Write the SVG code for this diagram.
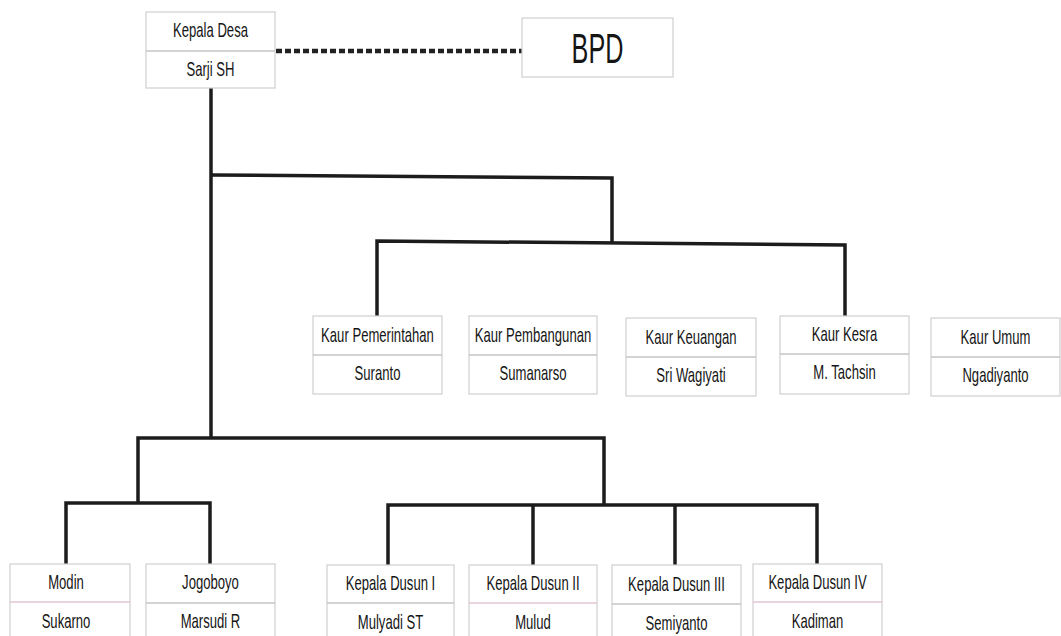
<svg xmlns="http://www.w3.org/2000/svg" width="1061" height="636" viewBox="0 0 1061 636">
<defs>
<style>
.box{fill:#ffffff;stroke:#cfcfcf;stroke-width:1.2}
.div{stroke:#c4c4c4;stroke-width:1.5}
.divp{stroke:#e2c6d4;stroke-width:1.5}
.t{font-family:"Liberation Sans",Arial,sans-serif;font-size:20px;fill:#151515;text-anchor:middle}
.big{font-family:"Liberation Sans",Arial,sans-serif;font-size:42px;fill:#151515;text-anchor:middle}
.ln{fill:none;stroke:#1c1c1c;stroke-width:3.5;stroke-linejoin:miter}
.dash{fill:none;stroke:#222;stroke-width:4.5;stroke-dasharray:6 3}
</style>
</defs>
<rect width="1061" height="636" fill="#ffffff"/>
<g id="connectors">
<line class="dash" x1="276" y1="51" x2="522" y2="51"/>
<path class="ln" d="M211,88 V438"/>
<path class="ln" d="M211,175 L612,178 V242"/>
<path class="ln" d="M377,316 V241 L845,245 V316"/>
<path class="ln" d="M138,503 V438 H604 V505"/>
<path class="ln" d="M66,564 V503 H210 V564"/>
<path class="ln" d="M388,565 V505 H817 V565"/>
<path class="ln" d="M533,505 V565"/>
<path class="ln" d="M675,505 V565"/>
</g>
<g id="kepala-desa">
<rect class="box" x="146" y="12" width="129" height="76"/>
<line class="div" x1="146" y1="51" x2="275" y2="51"/>
<text class="t" transform="translate(210.5,37) scale(0.655,1)">Kepala Desa</text>
<text class="t" transform="translate(210.5,76) scale(0.655,1)">Sarji SH</text>
</g>
<g id="bpd">
<rect class="box" x="522" y="18" width="151" height="59"/>
<text class="big" transform="translate(597.5,63) scale(0.6,1)">BPD</text>
</g>
<g id="kaur-pemerintahan">
<rect class="box" x="313" y="316" width="129" height="78"/>
<line class="div" x1="313" y1="355" x2="442" y2="355"/>
<text class="t" transform="translate(377.5,342) scale(0.655,1)">Kaur Pemerintahan</text>
<text class="t" transform="translate(377.5,380) scale(0.655,1)">Suranto</text>
</g>
<g id="kaur-pembangunan">
<rect class="box" x="469" y="316" width="128" height="78"/>
<line class="div" x1="469" y1="355" x2="597" y2="355"/>
<text class="t" transform="translate(533,342) scale(0.655,1)">Kaur Pembangunan</text>
<text class="t" transform="translate(533,380) scale(0.655,1)">Sumanarso</text>
</g>
<g id="kaur-keuangan">
<rect class="box" x="626" y="318" width="130" height="78"/>
<line class="div" x1="626" y1="357" x2="756" y2="357"/>
<text class="t" transform="translate(691,344) scale(0.655,1)">Kaur Keuangan</text>
<text class="t" transform="translate(691,382) scale(0.655,1)">Sri Wagiyati</text>
</g>
<g id="kaur-kesra">
<rect class="box" x="780" y="316" width="129" height="78"/>
<line class="div" x1="780" y1="354" x2="909" y2="354"/>
<text class="t" transform="translate(844.5,341) scale(0.655,1)">Kaur Kesra</text>
<text class="t" transform="translate(844.5,379) scale(0.655,1)">M. Tachsin</text>
</g>
<g id="kaur-umum">
<rect class="box" x="931" y="318" width="129" height="78"/>
<line class="div" x1="931" y1="357" x2="1060" y2="357"/>
<text class="t" transform="translate(995.5,344) scale(0.655,1)">Kaur Umum</text>
<text class="t" transform="translate(995.5,382) scale(0.655,1)">Ngadiyanto</text>
</g>
<g id="modin">
<rect class="box" x="10" y="564" width="120" height="80"/>
<line class="divp" x1="10" y1="602" x2="130" y2="602"/>
<text class="t" transform="translate(66,589) scale(0.655,1)">Modin</text>
<text class="t" transform="translate(66,628) scale(0.655,1)">Sukarno</text>
</g>
<g id="jogoboyo">
<rect class="box" x="146" y="564" width="129" height="80"/>
<line class="div" x1="146" y1="603" x2="275" y2="603"/>
<text class="t" transform="translate(210.5,589) scale(0.655,1)">Jogoboyo</text>
<text class="t" transform="translate(210.5,628) scale(0.655,1)">Marsudi R</text>
</g>
<g id="kepala-dusun-1">
<rect class="box" x="327" y="565" width="127" height="80"/>
<line class="div" x1="327" y1="603" x2="454" y2="603"/>
<text class="t" transform="translate(390.5,590) scale(0.655,1)">Kepala Dusun I</text>
<text class="t" transform="translate(390.5,629) scale(0.655,1)">Mulyadi ST</text>
</g>
<g id="kepala-dusun-2">
<rect class="box" x="469" y="565" width="128" height="80"/>
<line class="divp" x1="469" y1="603" x2="597" y2="603"/>
<text class="t" transform="translate(533,590) scale(0.655,1)">Kepala Dusun II</text>
<text class="t" transform="translate(533,629) scale(0.655,1)">Mulud</text>
</g>
<g id="kepala-dusun-3">
<rect class="box" x="612" y="565" width="129" height="80"/>
<line class="div" x1="612" y1="604" x2="741" y2="604"/>
<text class="t" transform="translate(676.5,591) scale(0.655,1)">Kepala Dusun III</text>
<text class="t" transform="translate(676.5,630) scale(0.655,1)">Semiyanto</text>
</g>
<g id="kepala-dusun-4">
<rect class="box" x="753" y="564" width="129" height="80"/>
<line class="divp" x1="753" y1="602" x2="882" y2="602"/>
<text class="t" transform="translate(817.5,589) scale(0.655,1)">Kepala Dusun IV</text>
<text class="t" transform="translate(817.5,628) scale(0.655,1)">Kadiman</text>
</g>
</svg>
